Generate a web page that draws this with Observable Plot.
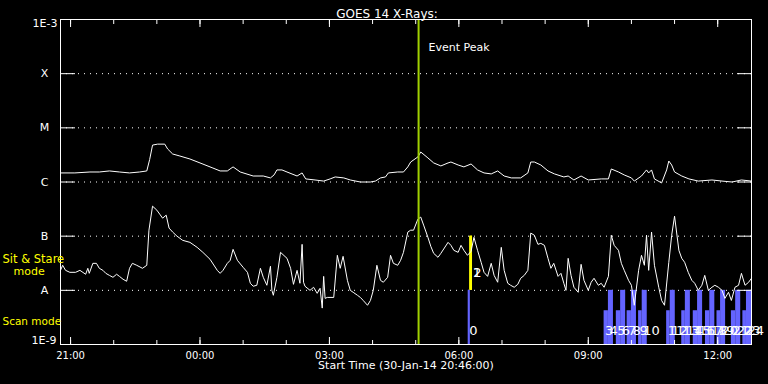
<!DOCTYPE html>
<html><head><meta charset="utf-8">
<script src="https://cdn.jsdelivr.net/npm/d3@7"></script>
<script src="https://cdn.jsdelivr.net/npm/@observablehq/plot@0.6"></script>
<style>
html,body{margin:0;padding:0;background:#000;}
svg{display:block;}
</style></head><body><div id="chart"></div>
<script>
const title = "GOES 14 X-Rays:";
const xLabel = "Start Time (30-Jan-14 20:46:00)";
const startTime = "2014-01-30T20:46:00Z";
const endMinutes = 961;
const levelValues = [1e-9, 1e-8, 1e-7, 1e-6, 1e-5, 1e-4, 1e-3];
const levelLabels = ["1E-9", "A", "B", "C", "M", "X", "1E-3"];
const eventPeakMinutes = 498;
const eventLabel = "Event Peak";

// [minutes after start, flux W/m^2] — 1-8 Å channel
const longChannel = [[0,1.47e-6],[20,1.47e-6],[41,1.53e-6],[54,1.53e-6],[68,1.60e-6],[82,1.53e-6],[96,1.47e-6],[110,1.53e-6],[120,1.60e-6],[124,2.6e-6],[128,4.8e-6],[135,5.0e-6],[145,5.0e-6],[149,4.07e-6],[156,3.29e-6],[166,3.02e-6],[180,2.66e-6],[194,2.25e-6],[212,1.81e-6],[222,1.60e-6],[232,1.60e-6],[240,1.90e-6],[250,1.53e-6],[268,1.29e-6],[282,1.29e-6],[292,1.19e-6],[297,1.35e-6],[301,1.67e-6],[308,1.67e-6],[315,1.53e-6],[329,1.29e-6],[336,1.47e-6],[341,1.14e-6],[354,1.09e-6],[366,1.04e-6],[375,1.14e-6],[382,1.24e-6],[394,1.19e-6],[403,1.09e-6],[417,1.0e-6],[431,1.0e-6],[438,1.04e-6],[445,1.19e-6],[452,1.24e-6],[456,1.47e-6],[469,1.53e-6],[477,1.53e-6],[483,1.90e-6],[487,2.34e-6],[497,2.9e-6],[501,3.58e-6],[511,2.78e-6],[519,2.25e-6],[529,1.98e-6],[539,2.25e-6],[543,2.34e-6],[553,2.06e-6],[561,1.90e-6],[571,2.15e-6],[580,1.67e-6],[589,1.47e-6],[599,1.41e-6],[608,1.60e-6],[617,1.29e-6],[627,1.19e-6],[640,1.19e-6],[650,1.47e-6],[654,2.34e-6],[659,2.34e-6],[668,2.06e-6],[678,1.60e-6],[687,1.41e-6],[700,1.24e-6],[706,1.29e-6],[714,1.09e-6],[724,1.29e-6],[734,1.09e-6],[752,1.14e-6],[762,1.14e-6],[766,1.74e-6],[776,1.53e-6],[784,1.35e-6],[794,1.19e-6],[798,1.04e-6],[808,1.29e-6],[815,1.67e-6],[818,1.47e-6],[822,1.67e-6],[826,1.14e-6],[836,0.96e-6],[843,1.67e-6],[846,2.44e-6],[850,2.06e-6],[854,1.53e-6],[864,1.29e-6],[874,1.14e-6],[887,1.04e-6],[906,1.09e-6],[920,1.04e-6],[934,1.0e-6],[947,1.09e-6],[961,1.04e-6]];

// [minutes after start, flux W/m^2] — 0.5-4 Å channel
const shortChannel = [[0,2.34e-8],[3,2.90e-8],[7,2.34e-8],[13,2.15e-8],[21,2.15e-8],[27,2.34e-8],[35,1.98e-8],[38,2.55e-8],[40,2.06e-8],[45,3.15e-8],[50,3.15e-8],[54,2.55e-8],[59,2.34e-8],[63,2.06e-8],[68,1.89e-8],[73,1.74e-8],[78,1.98e-8],[82,1.81e-8],[87,1.60e-8],[92,1.47e-8],[96,2.55e-8],[100,3.15e-8],[106,2.90e-8],[114,2.55e-8],[120,2.90e-8],[123,1.29e-7],[128,3.58e-7],[134,3.02e-7],[138,2.55e-7],[142,2.15e-7],[147,2.44e-7],[151,1.41e-7],[156,1.19e-7],[162,1.0e-7],[170,8.37e-8],[180,7.69e-8],[190,6.22e-8],[198,5.03e-8],[208,3.74e-8],[218,2.34e-8],[222,2.06e-8],[226,2.34e-8],[232,3.15e-8],[236,3.58e-8],[240,5.71e-8],[246,3.58e-8],[254,2.66e-8],[260,2.15e-8],[264,1.35e-8],[268,1.19e-8],[273,1.24e-8],[278,2.55e-8],[282,1.74e-8],[287,1.24e-8],[292,2.78e-8],[294,1.0e-8],[296,0.81e-8],[301,1.74e-8],[306,5.03e-8],[315,3.90e-8],[320,2.55e-8],[324,1.29e-8],[329,2.34e-8],[333,1.35e-8],[336,7.06e-8],[338,1.41e-8],[340,1.19e-8],[347,1.0e-8],[352,1.14e-8],[357,0.88e-8],[361,1.09e-8],[364,0.47e-8],[366,1.81e-8],[368,0.71e-8],[371,0.74e-8],[380,0.74e-8],[385,4.43e-8],[389,2.55e-8],[393,4.24e-8],[399,1.53e-8],[403,1.0e-8],[407,0.92e-8],[413,0.81e-8],[417,0.74e-8],[421,0.65e-8],[427,0.53e-8],[431,0.65e-8],[435,1.0e-8],[440,2.90e-8],[445,1.53e-8],[449,1.41e-8],[455,1.74e-8],[459,4.43e-8],[463,3.15e-8],[469,2.90e-8],[473,3.58e-8],[477,5.03e-8],[483,1.19e-7],[487,1.29e-7],[491,1.29e-7],[497,2.06e-7],[501,2.25e-7],[505,1.60e-7],[511,9.51e-8],[515,6.49e-8],[519,4.82e-8],[525,4.07e-8],[529,4.82e-8],[539,7.69e-8],[543,6.77e-8],[547,5.48e-8],[553,5.03e-8],[557,6.77e-8],[561,5.48e-8],[566,4.43e-8],[571,5.25e-8],[575,9.51e-8],[580,5.48e-8],[585,3.29e-8],[589,2.15e-8],[594,1.81e-8],[599,3.15e-8],[603,1.89e-8],[608,1.41e-8],[613,6.22e-8],[617,2.34e-8],[622,1.35e-8],[626,1.24e-8],[631,1.14e-8],[636,1.29e-8],[640,1.67e-8],[645,1.89e-8],[650,2.34e-8],[654,1.14e-7],[659,1.04e-7],[664,7.06e-8],[668,7.37e-8],[673,6.77e-8],[678,3.90e-8],[682,2.55e-8],[686,3.15e-8],[692,1.81e-8],[696,2.06e-8],[700,1.35e-8],[703,1.0e-8],[706,3.90e-8],[710,1.89e-8],[714,1.14e-8],[720,0.92e-8],[724,3.02e-8],[728,1.53e-8],[734,1.0e-8],[738,1.41e-8],[742,1.67e-8],[748,1.24e-8],[752,1.35e-8],[756,1.14e-8],[762,1.81e-8],[766,1.04e-7],[770,6.77e-8],[776,5.48e-8],[780,3.15e-8],[784,2.34e-8],[790,1.53e-8],[794,1.24e-8],[798,0.53e-8],[804,2.34e-8],[808,4.43e-8],[812,2.90e-8],[815,1.04e-7],[818,2.34e-8],[822,1.19e-7],[826,2.90e-8],[832,1.14e-8],[836,0.65e-8],[840,0.53e-8],[846,3.29e-8],[850,1.04e-7],[854,2.34e-7],[860,5.48e-8],[864,3.90e-8],[868,3.29e-8],[873,2.15e-8],[878,1.53e-8],[882,1.35e-8],[887,1.0e-8],[892,1.24e-8],[896,1.89e-8],[901,1.0e-8],[906,1.14e-8],[910,1.24e-8],[915,1.14e-8],[920,1.0e-8],[924,0.71e-8],[929,0.92e-8],[933,0.65e-8],[938,1.14e-8],[943,1.24e-8],[947,2.06e-8],[952,1.24e-8],[957,1.41e-8],[961,1.67e-8]];

// observing modes: label, kind, start min, end min, top level
const modeLabels = ["0","1","2","3","4","5","6","7","8","9","10","11","12","13","14","15","16","17","18","19","20","21","22","23","24"];
const modeKinds  = ["scan","stare","stare","scan","scan","scan","scan","scan","scan","scan","scan","scan","scan","scan","scan","scan","scan","scan","scan","scan","scan","scan","scan","scan","scan"];
const modeStart  = [567,569,570,756,762,773,779,788,794,804,809,843,848,864,869,880,886,897,903,913,918,933,939,949,954];
const modeEnd    = [570,573,573,762,769,779,786,794,801,809,816,848,855,869,876,886,893,903,910,918,925,939,946,954,961];
const modeTop    = [1e-8,1e-7,1e-7,4.2e-9,1e-8,4.2e-9,1e-8,4.2e-9,1e-8,4.2e-9,1e-8,4.2e-9,1e-8,4.2e-9,1e-8,4.2e-9,1e-8,4.2e-9,1e-8,4.2e-9,1e-8,4.2e-9,1e-8,4.2e-9,1e-8];
const modeNames = ["Sit & Stare", "mode", "Scan mode"];

const t0 = new Date(startTime);
const T = m => new Date(+t0 + m * 60000);
const longData = longChannel.map(([m, v]) => ({t: T(m), v}));
const shortData = shortChannel.map(([m, v]) => ({t: T(m), v}));
const modes = modeLabels.map((label, i) => ({
  label, kind: modeKinds[i], x1: T(modeStart[i]), x2: T(modeEnd[i]),
  y1: modeKinds[i] === "scan" ? 1e-9 : 1e-8, y2: modeTop[i]
}));
const scanModes = modes.filter(d => d.kind === "scan");
const stareModes = modes.filter(d => d.kind === "stare");
const levels = levelValues.map((v, i) => ({v, label: levelLabels[i]}));
const BLUE = "#6464ff", YELLOW = "#ffff00", GREEN = "#a0d000";

const chart = Plot.plot({
  width: 768, height: 384,
  marginLeft: 60, marginRight: 17, marginTop: 19, marginBottom: 40,
  style: {background: "#000", color: "#fff", fontFamily: "DejaVu Sans", fontSize: "11px"},
  x: {type: "utc", domain: [T(0), T(endMinutes)]},
  y: {type: "log", domain: [1e-9, 1e-3]},
  marks: [
    Plot.gridY(levelValues.slice(1, -1), {stroke: "#fff", strokeOpacity: 1, strokeDasharray: "1,5"}),
    Plot.rect(modes, {x1: "x1", x2: "x2", y1: "y1", y2: "y2", fill: d => d.kind === "scan" ? BLUE : YELLOW}),
    Plot.line(longData, {x: "t", y: "v", stroke: "#fff", strokeWidth: 1}),
    Plot.line(shortData, {x: "t", y: "v", stroke: "#fff", strokeWidth: 1}),
    Plot.ruleX([T(eventPeakMinutes)], {stroke: GREEN, strokeWidth: 2}),
    Plot.text([eventLabel], {x: T(eventPeakMinutes), frameAnchor: "top", dy: 24, dx: 10, textAnchor: "start", fill: "#fff"}),
    Plot.text(scanModes, {x: "x1", frameAnchor: "bottom", dy: -10, dx: 1, textAnchor: "start", text: "label", fill: "#fff", fontSize: 13}),
    Plot.text(stareModes, {x: "x1", y: "y1", dy: -18, dx: 3, textAnchor: "start", text: "label", fill: "#fff", fontSize: 13}),
    Plot.frame({stroke: "#fff"}),
    Plot.axisY(levelValues, {anchor: "left", tickSize: -15, fill: "none", label: null, stroke: "#fff"}),
    Plot.axisY(levelValues, {anchor: "right", tickSize: -15, fill: "none", label: null, stroke: "#fff"}),
    Plot.axisX({anchor: "bottom", ticks: d3.utcHour.every(3), tickSize: -7, fill: "none", label: null, stroke: "#fff"}),
    Plot.axisX({anchor: "bottom", ticks: d3.utcHour.every(1), tickSize: -4, fill: "none", label: null, stroke: "#fff"}),
    Plot.axisX({anchor: "top", ticks: d3.utcHour.every(3), tickSize: -7, fill: "none", label: null, stroke: "#fff"}),
    Plot.axisX({anchor: "top", ticks: d3.utcHour.every(1), tickSize: -4, fill: "none", label: null, stroke: "#fff"}),
    Plot.axisX({anchor: "bottom", ticks: d3.utcHour.every(3), tickSize: 0, tickPadding: 7, tickFormat: d3.utcFormat("%H:%M"), label: null, fill: "#fff", fontSize: 10}),
    Plot.text(levels.filter(d => d.label.length === 1), {y: "v", frameAnchor: "left", dx: -16, text: "label", textAnchor: "middle", fill: "#fff"}),
    Plot.text(levels.filter(d => d.v === 1e-3), {y: "v", frameAnchor: "left", dx: -3, dy: 4, text: "label", textAnchor: "end", fill: "#fff"}),
    Plot.text(levels.filter(d => d.v === 1e-9), {y: "v", frameAnchor: "left", dx: -4, dy: -4, text: "label", textAnchor: "end", fill: "#fff"}),
    Plot.text([modeNames[0]], {y: 1e-8, frameAnchor: "left", dx: -58, dy: -31, textAnchor: "start", fill: YELLOW, fontSize: 11.5}),
    Plot.text([modeNames[1]], {y: 1e-8, frameAnchor: "left", dx: -47, dy: -19, textAnchor: "start", fill: YELLOW}),
    Plot.text([modeNames[2]], {frameAnchor: "bottom-left", dx: -58, dy: -20, textAnchor: "start", fill: YELLOW, fontSize: 10.5}),
    Plot.text([title], {frameAnchor: "top", dy: -10, dx: -19, fill: "#fff", fontSize: 12}),
    Plot.text([xLabel], {frameAnchor: "bottom", dy: 24, fill: "#fff"})
  ]
});
document.getElementById("chart").append(chart);
</script></body></html>
